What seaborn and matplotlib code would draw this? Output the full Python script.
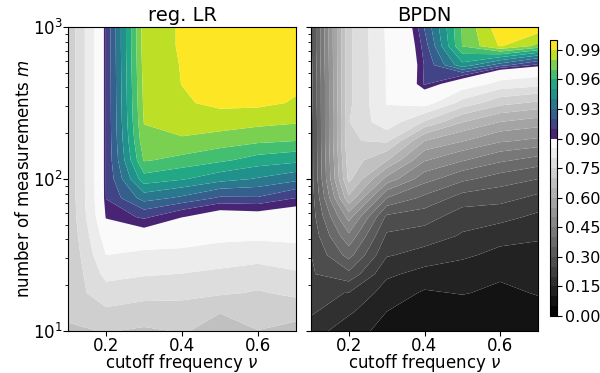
import matplotlib
matplotlib.use('Agg')
import matplotlib.pyplot as plt
from matplotlib.colors import BoundaryNorm, ListedColormap
import numpy as np
import seaborn as sns

# grid of the sweep
nu = [0.1, 0.2, 0.3, 0.4, 0.5, 0.6, 0.7]
m = [10, 13.3, 17.8, 23.7, 31.6, 42.2, 56.2, 75, 100, 133, 178, 237, 316, 422, 562, 750, 1000]

# reg. LR, one list per cutoff frequency, bottom to top
lr_01 = [.69, .714, .722, .705, .702, .705, .708, .71, .712, .712, .712, .712, .712, .712, .712, .712, .712]
lr_02 = [.703, .741, .779, .816, .85, .875, .9025, .9105, .911, .911, .911, .911, .911, .911, .911, .911, .911]
lr_03 = [.693, .73, .767, .805, .837, .892, .912, .9345, .956, .971, .977, .9805, .982, .983, .984, .985, .985]
lr_04 = [.703, .732, .763, .799, .839, .872, .9005, .928, .951, .967, .979, .9835, .9886, .9902, .9905, .991, .991]
lr_05 = [.688, .701, .7575, .79, .8285, .863, .891, .9185, .944, .962, .9755, .985, .9925, .994, .995, .996, .996]
lr_06 = [.699, .7225, .7455, .7795, .82, .861, .893, .919, .939, .956, .972, .983, .9925, .994, .996, .997, .997]
lr_07 = [.682, .72, .761, .794, .831, .863, .889, .91, .933, .953, .97, .981, .989, .992, .994, .995, .996]

# BPDN
bp_01 = [.175, .207, .207, .245, .249, .262, .27, .27, .275, .275, .275, .275, .28, .28, .285, .29, .29]
bp_02 = [.12, .158, .199, .288, .37, .44, .52, .64, .715, .73, .745, .748, .74, .74, .74, .74, .74]
bp_03 = [.085, .0993, .127, .16, .205, .242, .289, .40, .534, .655, .76, .834, .852, .853, .853, .855, .857]
bp_04 = [.06, .075, .094, .133, .182, .226, .273, .338, .421, .505, .60, .745, .875, .912, .911, .915, .921]
bp_05 = [.06, .075, .103, .123, .16, .195, .222, .28, .362, .455, .553, .652, .7825, .884, .947, .9705, .971]
bp_06 = [.06, .075, .09, .108, .135, .171, .216, .268, .326, .41, .507, .599, .717, .835, .925, .991, .9965]
bp_07 = [.07, .085, .103, .12, .136, .156, .189, .238, .30, .38, .488, .577, .69, .82, .907, .9775, .997]

levels = [0, .05, .1, .15, .2, .25, .3, .35, .4, .45, .5, .55, .6, .65, .7, .75, .8, .85, .9,
          .91, .92, .93, .94, .95, .96, .97, .98, .99, 1.0]
cbar_ticks = [0, .15, .3, .45, .6, .75, .9, .93, .96, .99]

sns.set_style('ticks', rc={'text.color': 'black', 'axes.labelcolor': 'black',
                           'xtick.color': 'black', 'ytick.color': 'black',
                           'axes.edgecolor': 'black'})
plt.rcParams['font.family'] = ['DejaVu Sans']
plt.rcParams['mathtext.fontset'] = 'dejavusans'

greys = sns.blend_palette(['#050505', '#fafafa'], 18)
greens = plt.get_cmap('viridis')(np.linspace(0.1, 1, 10))
cmap = ListedColormap(list(greys) + list(greens))
norm = BoundaryNorm(levels, cmap.N)

lr = np.column_stack([lr_01, lr_02, lr_03, lr_04, lr_05, lr_06, lr_07])
bp = np.column_stack([bp_01, bp_02, bp_03, bp_04, bp_05, bp_06, bp_07])

fig = plt.figure(figsize=(6, 3.73), dpi=100)
ax1 = fig.add_axes([68 / 600, 1 - 331 / 373, 228 / 600, 304 / 373])
ax2 = fig.add_axes([311 / 600, 1 - 331 / 373, 227 / 600, 304 / 373])
cax = fig.add_axes([550 / 600, 1 - 316 / 373, 7 / 600, 276 / 373])

for ax, z, name in [(ax1, lr, 'reg. LR'), (ax2, bp, 'BPDN')]:
    cs = ax.contourf(nu, m, z, levels=levels, cmap=cmap, norm=norm, antialiased=True)
    ax.set_yscale('log')
    ax.set_ylim(10, 1000)
    ax.set_xlim(0.1, 0.7)
    ax.set_xticks([0.2, 0.4, 0.6])
    ax.set_title(name, fontsize=14, pad=4)
    ax.set_xlabel(r'cutoff frequency $\nu$', fontsize=12, labelpad=-1.9)
    ax.tick_params(labelsize=12, length=3.5, width=0.8, pad=0.5)
    ax.tick_params(which='minor', length=2, width=0.6, left=True)
    for s in ax.spines.values():
        s.set_linewidth(0.8)

ax1.set_ylabel(r'number of measurements $m$', fontsize=12, labelpad=0)
ax2.tick_params(labelleft=False)

cb = fig.colorbar(cs, cax=cax, ticks=cbar_ticks)
cb.ax.set_yticklabels(['%.2f' % t for t in cbar_ticks])
cb.ax.tick_params(labelsize=11.5, length=3.5, width=0.8, pad=2)
cb.ax.minorticks_off()

fig.savefig('out.png', dpi=100)
